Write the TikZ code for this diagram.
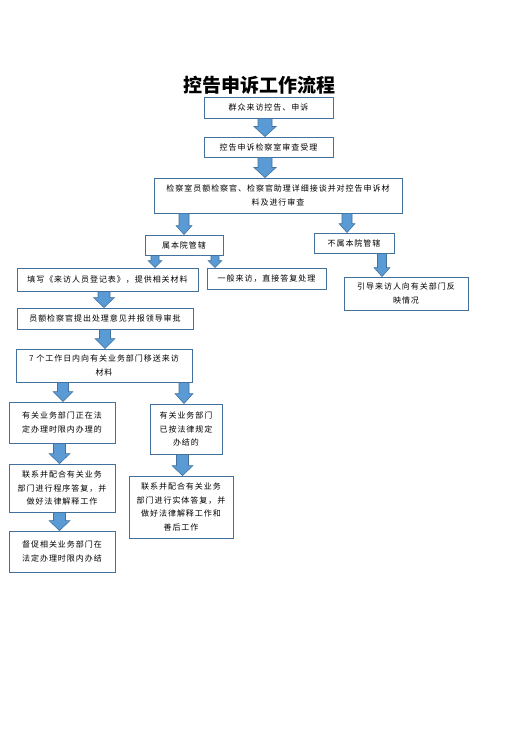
\documentclass[tikz,border=0pt]{standalone}
\usepackage{fontspec}
\newfontfamily\cjk[LetterSpace=12]{Noto Sans CJK SC}
\newfontfamily\titlecjk{Noto Sans CJK SC}
\usetikzlibrary{calc}
\definecolor{boxline}{HTML}{41719C}
\definecolor{arrfill}{HTML}{5B9BD5}
\def\shw{6pt}\def\hhw{10pt}\def\hl{10pt}
\tikzset{
  box/.style={draw=boxline, line width=0.9pt, fill=white, align=center,
    inner sep=2pt, text=black, font=\cjk\fontsize{8}{13.5}\selectfont},
  sw/.code={\def\shw{#1pt}},
  hw/.code={\def\hhw{#1pt}},
  hlen/.code={\def\hl{#1pt}},
  blockarr/.style={draw=boxline, fill=arrfill, line width=0.6pt,
    to path={let \p1=(\tikztostart), \p2=(\tikztotarget) in
      (\x1-\shw,\y1) -- (\x1+\shw,\y1) -- (\x1+\shw,\y2+\hl) -- (\x1+\hhw,\y2+\hl)
      -- (\x1,\y2) -- (\x1-\hhw,\y2+\hl) -- (\x1-\shw,\y2+\hl) -- cycle}}
}
\begin{document}
\begin{tikzpicture}[x=1pt,y=-1pt]
\useasboundingbox (0,0) rectangle (520,735);
\node[font=\titlecjk\bfseries\fontsize{19}{19}\selectfont, inner sep=0pt] (title) at (259.5,85) {控告申诉工作流程};

\node[box, minimum width=129, minimum height=21] (n1) at (268.5,107.5) {群众来访控告、申诉};
\node[box, minimum width=129, minimum height=20] (n2) at (268.5,147) {控告申诉检察室审查受理};
\node[box, minimum width=248, minimum height=35] (n3) at (278,195.5) {检察室员额检察官、检察官助理详细接谈并对控告申诉材\\料及进行审查};
\node[box, minimum width=78, minimum height=20] (n4) at (184,245) {属本院管辖};
\node[box, minimum width=80, minimum height=20] (n5) at (354,243) {不属本院管辖};
\node[box, minimum width=181, minimum height=23] (n6) at (107.5,279.5) {填写《来访人员登记表》，提供相关材料};
\node[box, minimum width=119, minimum height=21] (n7) at (266.5,278.5) {一般来访，直接答复处理};
\node[box, minimum width=124, minimum height=33] (n8) at (406,293.5) {引导来访人向有关部门反\\映情况};
\node[box, minimum width=176, minimum height=21] (n9) at (105,318.5) {员额检察官提出处理意见并报领导审批};
\node[box, minimum width=176, minimum height=33] (n10) at (104,365.5) {7 个工作日内向有关业务部门移送来访\\材料};
\node[box, minimum width=106, minimum height=41] (n11) at (62,422.5) {有关业务部门正在法\\定办理时限内办理的};
\node[box, minimum width=72, minimum height=50] (n12) at (186,429) {有关业务部门\\已按法律规定\\办结的};
\node[box, minimum width=106, minimum height=48] (n13) at (62,488) {联系并配合有关业务\\部门进行程序答复，并\\做好法律解释工作};
\node[box, minimum width=104, minimum height=62] (n14) at (181,507) {联系并配合有关业务\\部门进行实体答复，并\\做好法律解释工作和\\善后工作};
\node[box, minimum width=106, minimum height=41] (n15) at (62,551.5) {督促相关业务部门在\\法定办理时限内办结};

\draw[blockarr, sw=7, hw=11] (265,0 |- n1.south) to (265,0 |- n2.north);
\draw[blockarr, sw=7, hw=11] (265,0 |- n2.south) to (265,0 |- n3.north);
\draw[blockarr, sw=5, hw=8, hlen=9] (184,0 |- n3.south) to (184,0 |- n4.north);
\draw[blockarr, sw=5, hw=8, hlen=9] (347,0 |- n3.south) to (347,0 |- n5.north);
\draw[blockarr, sw=4, hw=7, hlen=7] (155,0 |- n4.south) to (155,0 |- n6.north);
\draw[blockarr, sw=4, hw=7, hlen=7] (215,0 |- n4.south) to (215,0 |- n7.north);
\draw[blockarr, sw=4.5, hw=8, hlen=9] (382,0 |- n5.south) to (382,0 |- n8.north);
\draw[blockarr, sw=6, hw=10.5] (104,0 |- n6.south) to (104,0 |- n9.north);
\draw[blockarr, sw=5.5, hw=10] (105,0 |- n9.south) to (105,0 |- n10.north);
\draw[blockarr, sw=5.5, hw=10] (63,0 |- n10.south) to (63,0 |- n11.north);
\draw[blockarr, sw=5, hw=9] (184,0 |- n10.south) to (184,0 |- n12.north);
\draw[blockarr, sw=6, hw=10.5] (59.5,0 |- n11.south) to (59.5,0 |- n13.north);
\draw[blockarr, sw=6, hw=10.5] (182.5,0 |- n12.south) to (182.5,0 |- n14.north);
\draw[blockarr, sw=6, hw=10.5] (59.5,0 |- n13.south) to (59.5,0 |- n15.north);
\end{tikzpicture}
\end{document}
